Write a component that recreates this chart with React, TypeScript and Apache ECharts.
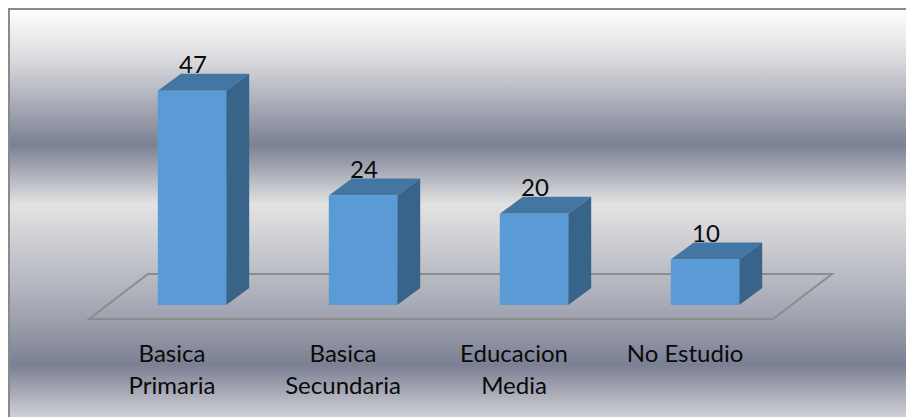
import React, { useEffect, useRef } from "react";
import * as echarts from "echarts";

const categories = ["Basica\nPrimaria", "Basica\nSecundaria", "Educacion\nMedia", "No Estudio"];
const values = [47, 24, 20, 10];
const FONT = "Lato, Carlito, Calibri, sans-serif";

export default function App() {
  const ref = useRef<HTMLDivElement>(null);
  useEffect(() => {
    const chart = echarts.init(ref.current!, undefined, { renderer: "svg" });
    const dx = 23, dy = 17;
    chart.setOption({
      animation: false,
      backgroundColor: "#ffffff",
      grid: { left: 106.5, right: 115.5, top: 77, bottom: 112 },
      xAxis: {
        type: "category",
        data: categories,
        axisLine: { show: false },
        axisTick: { show: false },
        axisLabel: {
          margin: 31,
          color: "#0a0a0a",
          fontFamily: FONT,
          fontSize: 24,
          lineHeight: 32,
          verticalAlign: "top",
          padding: [0, 40, 0, 0],
          interval: 0,
        },
      },
      yAxis: { type: "value", min: 0, max: 50, show: false },
      graphic: [
        {
          type: "rect", z: -10, silent: true,
          shape: { x: 9, y: 9, width: 897, height: 408 },
          style: {
            fill: new echarts.graphic.LinearGradient(0, 0, 0, 1, [
              { offset: 0, color: "#ffffff" },
              { offset: 0.12, color: "#dcdcdf" },
              { offset: 0.333, color: "#7b8093" },
              { offset: 0.48, color: "#e3e3e3" },
              { offset: 0.72, color: "#a9acb7" },
              { offset: 0.873, color: "#7b8093" },
              { offset: 1, color: "#d0d1d5" },
            ]),
          },
        },
        { type: "polyline", z: -9, silent: true, shape: { points: [[9, 417], [9, 9], [906, 9]] }, style: { stroke: "#8a8a8a", lineWidth: 2, fill: "none" } },
        {
          type: "polygon", z: -8, silent: true,
          shape: { points: [[89, 319], [773, 319], [832, 274], [148, 274]] },
          style: { stroke: "#8c8c8c", lineWidth: 2, fill: "none" },
        },
      ],
      series: [
        {
          type: "custom",
          data: values.map((v, i) => [i, v]),
          encode: { x: 0, y: 1 },
          clip: false,
          renderItem: (_p: any, api: any) => {
            const top = api.coord([api.value(0), api.value(1)]);
            const base = api.coord([api.value(0), 0]);
            const w = api.size([1, 0])[0] * 0.4;
            const x0 = top[0] - w / 2, x1 = top[0] + w / 2;
            const y0 = top[1], y1 = base[1];
            return {
              type: "group",
              children: [
                { type: "polygon", shape: { points: [[x0, y0], [x1, y0], [x1 + dx, y0 - dy], [x0 + dx, y0 - dy]] }, style: { fill: "#4476a4" } },
                { type: "polygon", shape: { points: [[x1, y0], [x1 + dx, y0 - dy], [x1 + dx, y1 - dy], [x1, y1]] }, style: { fill: "#38648a" } },
                { type: "rect", shape: { x: x0, y: y0, width: w, height: y1 - y0 }, style: { fill: "#5b9bd5" } },
                {
                  type: "text", z2: 10,
                  style: {
                    x: top[0] + 1, y: y0 - dy + 2, text: String(api.value(1)), align: "center", verticalAlign: "bottom",
                    fill: "#0a0a0a", font: `24px ${FONT}`,
                  },
                },
              ],
            };
          },
        },
      ],
    });
    return () => chart.dispose();
  }, []);
  return <div ref={ref} style={{ position: "absolute", left: 0, top: 0, width: 906, height: 417 }} />;
}
